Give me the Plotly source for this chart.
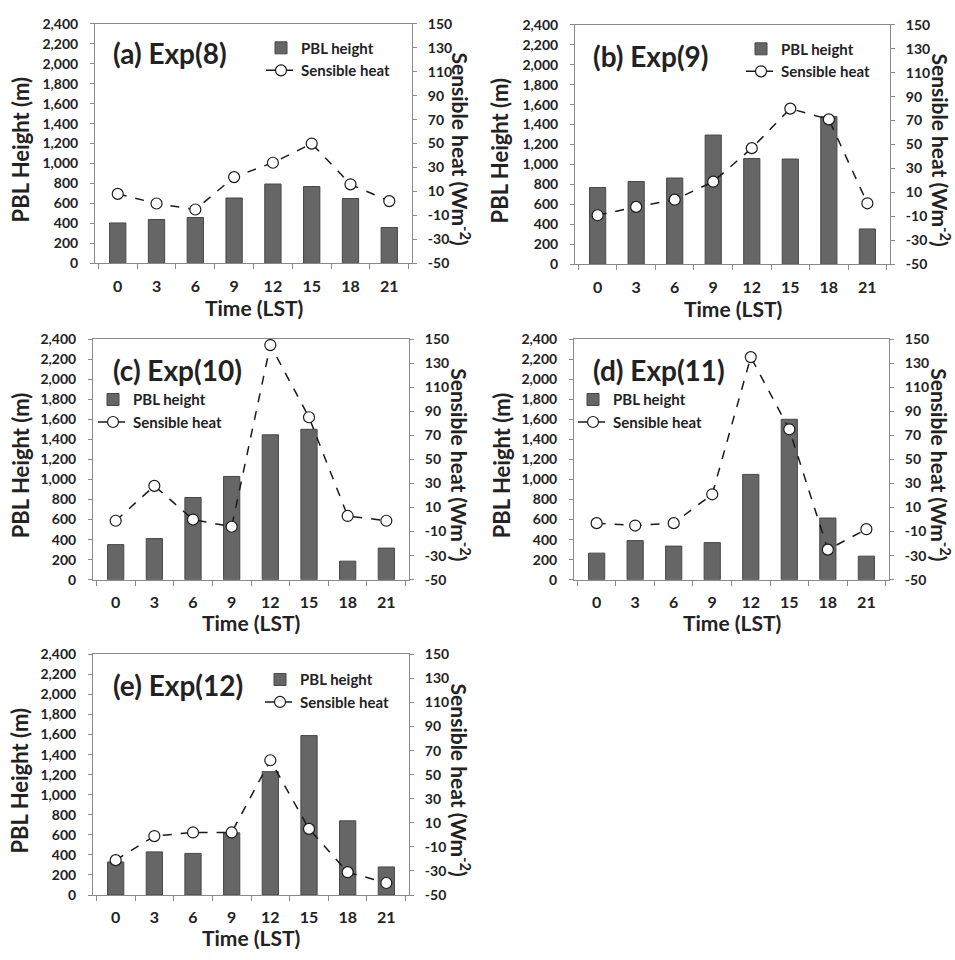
import plotly.graph_objects as go

# ---------------- data ----------------
hours = ["0", "3", "6", "9", "12", "15", "18", "21"]
panel_titles = ["(a) Exp(8)", "(b) Exp(9)", "(c) Exp(10)", "(d) Exp(11)", "(e) Exp(12)"]

pbl_exp8 = [405, 440, 460, 655, 795, 770, 650, 360]
pbl_exp9 = [770, 830, 865, 1295, 1060, 1055, 1480, 355]
pbl_exp10 = [350, 410, 820, 1030, 1445, 1500, 185, 315]
pbl_exp11 = [265, 390, 335, 370, 1050, 1600, 615, 235]
pbl_exp12 = [330, 430, 415, 620, 1230, 1590, 740, 280]

sh_exp8 = [8, 0, -5, 22, 34, 50, 16, 2]
sh_exp9 = [-9, -2, 4, 19, 47, 80, 71, 1]
sh_exp10 = [-1, 28, 0, -6, 145, 85, 3, -1]
sh_exp11 = [-3, -5, -3, 21, 135, 75, -25, -8]
sh_exp12 = [-21, -1, 2, 2, 62, 5, -31, -40]

left_ticks = list(range(0, 2401, 200))
right_ticks = list(range(-50, 151, 20))

pbl_all = [pbl_exp8, pbl_exp9, pbl_exp10, pbl_exp11, pbl_exp12]
sh_all = [sh_exp8, sh_exp9, sh_exp10, sh_exp11, sh_exp12]

# ---------------- geometry (pixels) ----------------
W, H = 955, 960
geom = [
    dict(l=95, r=412, t=15, b=259, tx=111, ty=45, lgx=261, lgy=23, ltx=20, rtx=461, xty=304),
    dict(l=575, r=890, t=16, b=260, tx=591, ty=48, lgx=741, lgy=24, ltx=499, rtx=941, xty=305),
    dict(l=93, r=409, t=336, b=581, tx=111, ty=368, lgx=93, lgy=381, ltx=20, rtx=461, xty=625),
    dict(l=574, r=889, t=336, b=581, tx=591, ty=368, lgx=573, lgy=381, ltx=501, rtx=941, xty=625),
    dict(l=93, r=409, t=657, b=902, tx=111, ty=688, lgx=260, lgy=666, ltx=20, rtx=461, xty=945),
]

def px(x):
    return x / W

def py(y):
    return 1 - y / H

FONT = "Lato"
TXT = "#222222"
AXC = "#8a8a8a"

fig = go.Figure()
layout = dict(
    width=W, height=H,
    margin=dict(l=0, r=0, t=0, b=0),
    paper_bgcolor="white", plot_bgcolor="white",
    font=dict(family=FONT, color=TXT),
    showlegend=True,
    annotations=[],
)

right_text = [str(v) for v in right_ticks]
left_text = [f"{v:,}" for v in left_ticks]

for i in range(5):
    g = geom[i]
    xa = "x" if i == 0 else f"x{i+1}"
    yl_n = 2 * i + 1
    yr_n = 2 * i + 2
    yl = "y" if yl_n == 1 else f"y{yl_n}"
    yr = f"y{yr_n}"
    leg = "legend" if i == 0 else f"legend{i+1}"

    fig.add_trace(go.Bar(
        x=hours, y=pbl_all[i], name="PBL height",
        xaxis=xa, yaxis=yl, legend=leg,
        width=0.42,
        marker=dict(color="#666666", line=dict(color="#474747", width=1)),
    ))
    fig.add_trace(go.Scatter(
        x=hours, y=sh_all[i], name="Sensible heat",
        xaxis=xa, yaxis=yr, legend=leg,
        mode="lines+markers",
        line=dict(color="#1a1a1a", width=1.5, dash="dash"),
        marker=dict(symbol="circle", size=11, color="white",
                    line=dict(color="#1a1a1a", width=1.2)),
    ))

    xkey = "xaxis" if i == 0 else f"xaxis{i+1}"
    ylkey = "yaxis" if yl_n == 1 else f"yaxis{yl_n}"
    yrkey = f"yaxis{yr_n}"

    layout[xkey] = dict(
        domain=[px(g["l"]), px(g["r"])], anchor=yl,
        type="category", tickson="boundaries",
        ticks="outside", ticklen=5, tickcolor=AXC, tickwidth=1,
        showline=True, linecolor=AXC, linewidth=1, mirror=True,
        showgrid=False, zeroline=False,
        tickfont=dict(family=FONT, size=16, color=TXT, weight="bold"),
        ticklabelstandoff=8,
        fixedrange=True,
    )
    layout[ylkey] = dict(
        domain=[py(g["b"]), py(g["t"])], anchor=xa,
        range=[0, 2400], tickvals=left_ticks, ticktext=left_text,
        ticks="outside", ticklen=4, tickcolor=AXC,
        showline=True, linecolor=AXC, linewidth=1, mirror=True,
        showgrid=False, zeroline=False,
        tickfont=dict(family=FONT, size=14, color=TXT, weight="bold"),
        ticklabelstandoff=9,
    )
    layout[yrkey] = dict(
        overlaying=yl, side="right", anchor=xa,
        range=[-50, 150], tickvals=right_ticks, ticktext=right_text,
        ticks="outside", ticklen=4, tickcolor=AXC,
        showline=True, linecolor=AXC, linewidth=1,
        showgrid=False, zeroline=False,
        tickfont=dict(family=FONT, size=14, color=TXT, weight="bold"),
        ticklabelstandoff=8,
    )
    layout[leg] = dict(
        x=px(g["lgx"]), y=py(g["lgy"]), xanchor="left", yanchor="top",
        bgcolor="rgba(0,0,0,0)", borderwidth=0,
        font=dict(family=FONT, size=15, color=TXT, weight="bold"),
        itemwidth=30, tracegroupgap=0,
    )

    ann = layout["annotations"]
    ann.append(dict(text=panel_titles[i], x=px(g["tx"]), y=py(g["ty"]),
                    xref="paper", yref="paper", xanchor="left", yanchor="middle",
                    showarrow=False, font=dict(family=FONT, size=28, color=TXT, weight="bold")))
    ann.append(dict(text="PBL Height (m)", x=px(g["ltx"]), y=py((g["t"] + g["b"]) / 2 + 6),
                    xref="paper", yref="paper", xanchor="center", yanchor="middle",
                    textangle=-90, showarrow=False,
                    font=dict(family=FONT, size=22, color=TXT, weight="bold")))
    ann.append(dict(text="Sensible heat (Wm<sup>-2</sup>)", x=px(g["rtx"]),
                    y=py((g["t"] + g["b"]) / 2 + 5),
                    xref="paper", yref="paper", xanchor="center", yanchor="middle",
                    textangle=90, showarrow=False,
                    font=dict(family=FONT, size=21, color=TXT, weight="bold")))
    ann.append(dict(text="Time (LST)", x=px((g["l"] + g["r"]) / 2), y=py(g["xty"]),
                    xref="paper", yref="paper", xanchor="center", yanchor="middle",
                    showarrow=False,
                    font=dict(family=FONT, size=21, color=TXT, weight="bold")))

fig.update_layout(**layout)
fig.write_html("out.html",
               config={"displayModeBar": False},
               post_script="document.body.style.margin='0';document.body.style.overflow='hidden';")
